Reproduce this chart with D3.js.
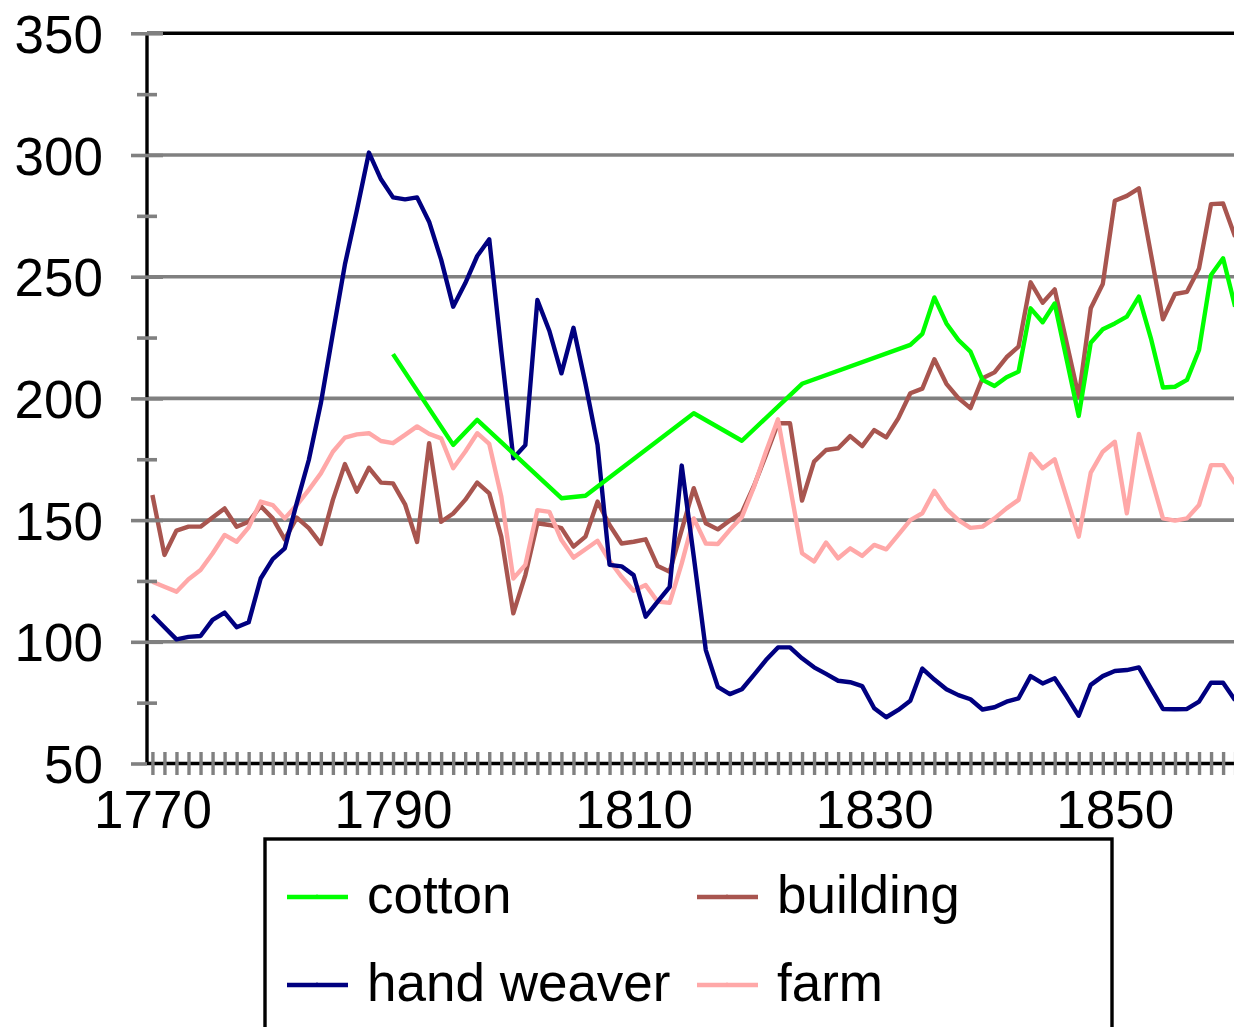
<!DOCTYPE html>
<html>
<head>
<meta charset="utf-8">
<script src="https://cdn.jsdelivr.net/npm/d3@7"></script>
<style>
  html, body { margin: 0; padding: 0; background: #fff; }
  svg { display: block; }
  text { font-family: "Liberation Sans", Arial, sans-serif; fill: #000; }
</style>
</head>
<body>
<svg id="chart" width="1234" height="1027"></svg>
<script>
// ---- data ----
const years = d3.range(1770, 1861);

const handWeaver = [
  111,106,101,102,102.4,109,112,106,108,126,
  134,138.4,157,174.7,198,226.7,255,277.4,301,290,
  282.6,281.8,282.6,272.6,257,237.7,247.3,258.5,265.4,219.5,
  175.4,180.8,240.4,227.7,210.3,229,206,180.9,131.6,131,
  127.4,110.3,116.5,122.6,172.4,135,96.6,81.5,78.5,80.5,
  86.4,92.5,97.7,97.7,93.2,89.5,86.8,84,83.4,81.8,
  72.7,69,72,75.8,89,84.5,80.5,78.1,76.4,72.2,
  73.1,75.4,76.8,85.9,82.9,85,77.5,69.6,82.3,85.9,
  88,88.4,89.5,80.9,72.4,72.3,72.4,75.4,83.2,83.2,
  76
];

const building = [
  160.3,135.7,145.7,147.3,147.3,151.1,154.8,147.3,149.3,155.8,
  150.7,142.1,151,146.7,140.2,158.3,173,161.7,171.5,165.4,
  165.1,156.5,141,181.6,149.3,152.7,158.3,165.4,161,143.2,
  111.7,127.4,148.7,148,146.7,139.1,143.2,157.6,148,140.4,
  141.1,142.1,131.1,128.8,146,163.1,148.7,146.2,149.8,153.1,
  164,176.7,189.8,189.8,158,174,178.8,179.5,184.5,180.4,
  187,184,191.8,202.1,204,216.1,206,200.1,196,208.3,
  210.7,216.9,221.3,247.7,239.3,244.8,222.8,200.7,237,247,
  281.2,283.2,286.3,259.4,232.5,242.9,243.8,253.4,279.8,280.1,
  266.4
];

const farm = [
  124.7,122.6,120.6,125.7,129.5,136.3,143.9,141.1,147,157.6,
  156.2,150.7,156.2,162.4,169.2,178.1,183.9,185.2,185.7,182.5,
  181.6,185,188.5,185.4,183.6,171.3,178.1,185.7,181.3,159.7,
  126,131.6,154.1,153.4,141.8,134.6,138,141.5,133.3,126.7,
  121,123.3,116.5,116,132.2,150.7,140.4,140.2,146,151.3,
  163.6,178.1,191.4,163.9,136.4,133,140.8,134.3,138.4,135.3,
  139.8,138,143.9,150,152.8,162,154.6,150,146.8,147.3,
  150.7,154.8,158.3,177.2,171.3,175,159.1,143.2,169.5,178.1,
  182.2,152.8,185.4,168,150.7,149.8,150.7,156.2,172.6,172.6,
  165
];

const cotton = [
  null,null,null,null,null,null,null,null,null,null,
  null,null,null,null,null,null,null,null,null,null,
  218.2,null,null,null,null,180.9,null,191.2,null,null,
  null,null,null,null,159,null,160,null,null,null,
  null,null,null,null,null,193.9,null,null,null,182.6,
  null,null,null,null,206,null,null,null,null,null,
  null,null,null,222,226.5,241.5,230.8,224,219.2,207.6,
  205.1,208.7,211,237,231.3,239,null,192.8,222.9,228.4,
  230.8,233.6,241.8,224.7,204.5,204.8,207.6,219.9,250.7,257.6,
  237.7
];

const seriesNames = ["cotton", "building", "hand weaver", "farm"];
const seriesColors = ["#00FF00", "#A8554F", "#000080", "#FFA8A8"];
const yTickValues = [50, 100, 150, 200, 250, 300, 350];
const yMinorValues = [75, 125, 175, 225, 275, 325];
const yGridValues = [100, 150, 200, 250, 300];
const xLabelYears = [1770, 1790, 1810, 1830, 1850];

// ---- layout ----
(function () {
const svg = d3.select("#chart");
const pL = 147, pT = 33.3, pB = 763.5, pR = 1240;
const x = d3.scaleLinear().domain([1769.55, 1860.5]).range([pL, pL + 90.95 * 12.03]);
const y = d3.scaleLinear().domain([50, 350]).range([pB, pT]);
const GRAY = "#808080";
const FONT = '"Liberation Sans", Arial, sans-serif';
const FS = 53;

svg.append("rect").attr("width", 1234).attr("height", 1027).attr("fill", "#fff");

// gridlines
svg.append("g").selectAll("line").data(yGridValues).join("line")
  .attr("x1", pL).attr("x2", pR)
  .attr("y1", d => y(d)).attr("y2", d => y(d))
  .attr("stroke", GRAY).attr("stroke-width", 3.6);

// plot frame
svg.append("line").attr("x1", pL).attr("x2", pR).attr("y1", pT).attr("y2", pT)
  .attr("stroke", "#000").attr("stroke-width", 3.4);
svg.append("line").attr("x1", pL).attr("x2", pL).attr("y1", pT).attr("y2", pB)
  .attr("stroke", "#000").attr("stroke-width", 3.4);
svg.append("line").attr("x1", pL).attr("x2", pR).attr("y1", pB).attr("y2", pB)
  .attr("stroke", "#000").attr("stroke-width", 3.4);

svg.append("clipPath").attr("id", "plotclip").append("rect")
  .attr("x", pL).attr("y", pT - 2).attr("width", pR - pL).attr("height", pB - pT + 4);

// series lines
const line = d3.line().x(d => x(d[0])).y(d => y(d[1]));
const seriesData = {
  "cotton": years.map((yr, i) => [yr, cotton[i]]).filter(d => d[1] != null),
  "building": years.map((yr, i) => [yr, building[i]]),
  "hand weaver": years.map((yr, i) => [yr, handWeaver[i]]),
  "farm": years.map((yr, i) => [yr, farm[i]])
};
const drawOrder = ["building", "farm", "hand weaver", "cotton"];
const gSeries = svg.append("g").attr("clip-path", "url(#plotclip)");
drawOrder.forEach(name => {
  const c = seriesColors[seriesNames.indexOf(name)];
  gSeries.append("path").datum(seriesData[name])
    .attr("d", line).attr("fill", "none")
    .attr("stroke", c).attr("stroke-width", 4.4)
    .attr("stroke-linejoin", "round").attr("stroke-linecap", "butt");
});

// y axis major ticks (crossing the axis)
const yMajor = d3.axisLeft(y).tickValues(yTickValues).tickSize(32).tickFormat("");
const gyM = svg.append("g").attr("transform", `translate(${pL + 16},0)`).call(yMajor);
gyM.select(".domain").remove();
gyM.selectAll(".tick line").attr("stroke", GRAY).attr("stroke-width", 3.6);
gyM.selectAll(".tick").filter(d => d === 50).select("line").attr("x2", -32).attr("x1", -16);

// y axis minor ticks
const yMinor = d3.axisLeft(y).tickValues(yMinorValues).tickSize(20).tickFormat("");
const gym = svg.append("g").attr("transform", `translate(${pL + 10},0)`).call(yMinor);
gym.select(".domain").remove();
gym.selectAll(".tick line").attr("stroke", GRAY).attr("stroke-width", 3.6);

// y axis labels
const yLab = d3.axisLeft(y).tickValues(yTickValues).tickSize(0).tickPadding(44).tickFormat(d3.format("d"));
const gyl = svg.append("g").attr("transform", `translate(${pL},0)`).call(yLab);
gyl.select(".domain").remove();
gyl.selectAll(".tick text").attr("font-size", FS).attr("dy", "0.36em")
  .style("font-family", FONT).attr("fill", "#000");

// x axis yearly ticks (crossing the axis)
const xTicks = d3.axisBottom(x).tickValues(years).tickSizeInner(23).tickSizeOuter(0).tickFormat("");
const gxt = svg.append("g").attr("transform", `translate(0,${pB - 11.5})`).call(xTicks);
gxt.select(".domain").remove();
gxt.selectAll(".tick line").attr("stroke", GRAY).attr("stroke-width", 3.4);

// x axis labels
const xLab = d3.axisBottom(x).tickValues(xLabelYears).tickSize(0).tickFormat(d3.format("d"));
const gxl = svg.append("g").attr("transform", `translate(0,${pB})`).call(xLab);
gxl.select(".domain").remove();
gxl.selectAll(".tick text").attr("font-size", FS).attr("y", 64.5).attr("dy", 0)
  .style("font-family", FONT).attr("fill", "#000");

// legend
const lg = svg.append("g");
lg.append("rect").attr("x", 265).attr("y", 839).attr("width", 847).attr("height", 260)
  .attr("fill", "#fff").attr("stroke", "#000").attr("stroke-width", 3.4);
const legendItems = [
  { name: "cotton", col: 0, row: 0 },
  { name: "building", col: 1, row: 0 },
  { name: "hand weaver", col: 0, row: 1 },
  { name: "farm", col: 1, row: 1 }
];
const colX = [287, 697], rowY = [897, 985];
legendItems.forEach(it => {
  const c = seriesColors[seriesNames.indexOf(it.name)];
  const lx = colX[it.col], ly = rowY[it.row];
  lg.append("line").attr("x1", lx).attr("x2", lx + 61).attr("y1", ly).attr("y2", ly)
    .attr("stroke", c).attr("stroke-width", 4.4);
  lg.append("circle").attr("cx", lx + 30).attr("cy", ly - 1).attr("r", 1.6).attr("fill", c);
  lg.append("text").attr("x", lx + 80).attr("y", ly + 16)
    .attr("font-size", FS).style("font-family", FONT).text(it.name);
});
})();
</script>
</body>
</html>
